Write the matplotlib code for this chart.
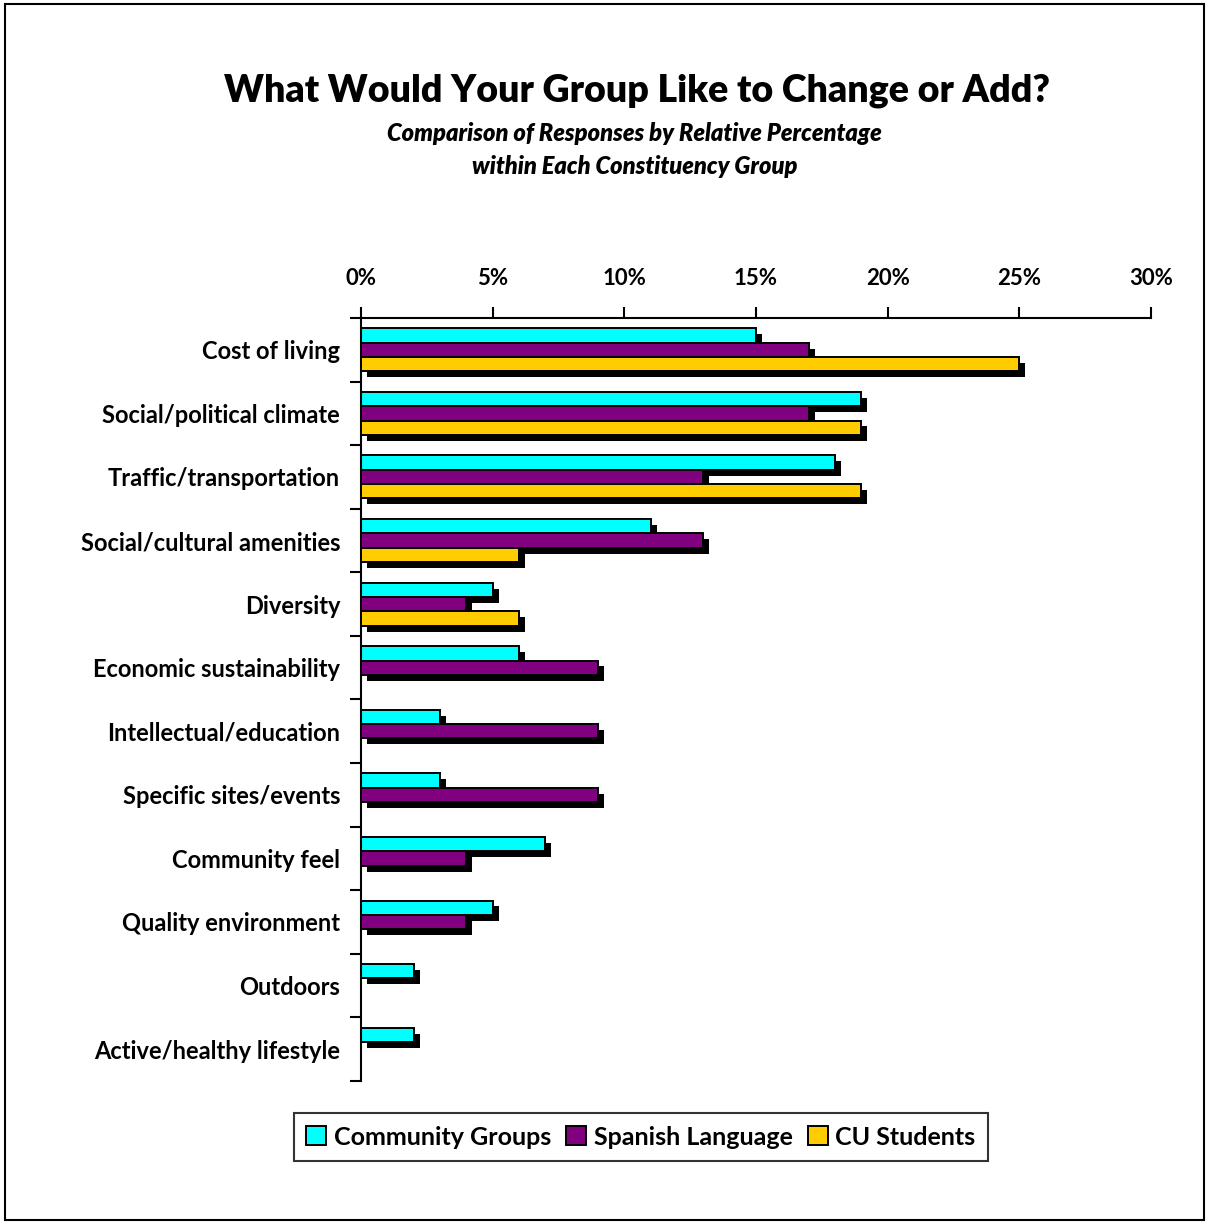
# What Would Your Group Like to Change or Add? - grouped horizontal bars
import numpy as np
import matplotlib
matplotlib.use("Agg")
import matplotlib.pyplot as plt
import matplotlib.patheffects as pe
from matplotlib.patches import Rectangle
from matplotlib.ticker import FuncFormatter

plt.rcParams.update({
    "font.family": ["Lato", "DejaVu Sans"],
    "font.weight": "bold",
})

# Data (percent of responses within each group)
categories = [
    "Cost of living", "Social/political climate", "Traffic/transportation",
    "Social/cultural amenities", "Diversity", "Economic sustainability",
    "Intellectual/education", "Specific sites/events", "Community feel",
    "Quality environment", "Outdoors", "Active/healthy lifestyle",
]
community_groups = [15, 19, 18, 11, 5, 6, 3, 3, 7, 5, 2, 2]
spanish_language = [17, 17, 13, 13, 4, 9, 9, 9, 4, 4, 0, 0]
cu_students = [25, 19, 19, 6, 6, 0, 0, 0, 0, 0, 0, 0]
series = [
    ("Community Groups", community_groups, "#00FFFF"),
    ("Spanish Language", spanish_language, "#800080"),
    ("CU Students", cu_students, "#FFCC00"),
]
x_ticks = [0, 5, 10, 15, 20, 25, 30]

fig = plt.figure(figsize=(12.09, 12.24), dpi=100)
fig.patches.append(Rectangle((0.004, 0.003), 0.992, 0.994, transform=fig.transFigure,
                             fill=False, edgecolor="black", linewidth=1.5))
ax = fig.add_axes([0.2986, 0.1169, 0.9520 - 0.2986, 0.7402 - 0.1169])

y = np.arange(len(categories))
h = 0.225
shadow = [pe.SimplePatchShadow(offset=(4.3, -4.3), shadow_rgbFace="black", alpha=1.0),
          pe.Normal()]
for i, (name, vals, color) in enumerate(series):
    vals = np.array(vals, dtype=float)
    mask = vals > 0
    bars = ax.barh(y[mask] + (i - 1) * h, vals[mask], height=h, color=color,
                   edgecolor="black", linewidth=1.4, label=name, zorder=2 + i)
    for b in bars:
        b.set_path_effects(shadow)

ax.set_xlim(0, 30)
ax.set_ylim(len(categories) - 0.5, -0.5)
ax.set_xticks(x_ticks)
ax.xaxis.set_major_formatter(FuncFormatter(lambda v, p: f"{v:.0f}%"))
ax.xaxis.tick_top()
ax.set_yticks(np.arange(len(categories) + 1) - 0.5)
ax.set_yticklabels([])
ax.set_yticks(y, minor=True)
ax.set_yticklabels(categories, minor=True)
ax.tick_params(axis="y", which="minor", length=0, pad=15, labelsize=17)
ax.tick_params(axis="y", which="major", length=8, width=1.5, direction="out")
ax.tick_params(axis="x", length=8, width=1.5, direction="out", labelsize=16, pad=13)
for s in ["right", "bottom"]:
    ax.spines[s].set_visible(False)
for s in ["left", "top"]:
    ax.spines[s].set_linewidth(1.5)

fig.text(0.527, 0.926, "What Would Your Group Like to Change or Add?",
         ha="center", va="center", fontsize=27, fontweight="heavy")
fig.text(0.525, 0.891, "Comparison of Responses by Relative Percentage",
         ha="center", va="center", fontsize=17, fontstyle="italic", fontweight="heavy")
fig.text(0.525, 0.864, "within Each Constituency Group",
         ha="center", va="center", fontsize=17, fontstyle="italic", fontweight="heavy")

leg = fig.legend(loc="center", bbox_to_anchor=(0.530, 0.071), ncol=3, frameon=True,
                 fancybox=False, edgecolor="black", fontsize=18, handlelength=0.8,
                 handleheight=0.8, handletextpad=0.3, columnspacing=0.6,
                 borderpad=0.5)
leg.get_frame().set_linewidth(1.5)
for hnd in leg.legend_handles:
    hnd.set_path_effects([])

fig.savefig("out.png", dpi=100)
